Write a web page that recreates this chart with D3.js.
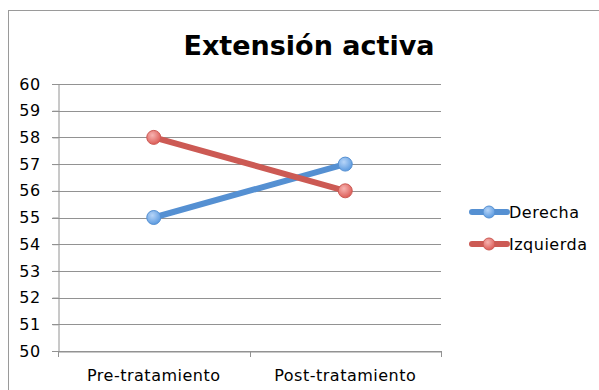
<!DOCTYPE html>
<html><head><meta charset="utf-8">
<script src="https://cdn.jsdelivr.net/npm/d3@7"></script>
<style>body{margin:0;background:#fff}svg{display:block}text{font-family:"DejaVu Sans",Verdana,sans-serif}</style>
</head><body><svg id="c" width="599" height="390"></svg>
<script>
const categories = ["Pre-tratamiento", "Post-tratamiento"];
const seriesNames = ["Derecha", "Izquierda"];
const derecha = [55, 57];
const izquierda = [58, 56];
const yTicks = [50, 51, 52, 53, 54, 55, 56, 57, 58, 59, 60];
const colors = ["#5590d2", "#cc5a54"];
const fills = [["#b7d5f8", "#5d9be0"], ["#f7b4b1", "#dc5d58"]];

const svg = d3.select("#c");
const L = 58, R = 441, T = 84, B = 351;
const x = d3.scaleBand().domain(categories).range([L, R]);
const y = d3.scaleLinear().domain([50, 60]).range([B, T]);
const FF = "'DejaVu Sans',Verdana,sans-serif";

// frame
svg.append("rect").attr("x", 8.5).attr("y", 10.5).attr("width", 620).attr("height", 420)
  .attr("fill", "none").attr("stroke", "#9a9a9a").attr("stroke-width", 1);

const defs = svg.append("defs");
fills.forEach((f, i) => {
  const g = defs.append("radialGradient").attr("id", "g" + i).attr("cx", "40%").attr("cy", "35%").attr("r", "65%");
  g.append("stop").attr("offset", "0%").attr("stop-color", f[0]);
  g.append("stop").attr("offset", "100%").attr("stop-color", f[1]);
});

// grid
svg.append("g").selectAll("line").data(yTicks).join("line")
  .attr("x1", L - 6).attr("x2", R).attr("y1", d => Math.round(y(d)) + 0.5).attr("y2", d => Math.round(y(d)) + 0.5)
  .attr("stroke", "#929292").attr("stroke-width", 1);

// y axis
const ya = svg.append("g").attr("transform", `translate(${L + 0.5},0)`)
  .call(d3.axisLeft(y).tickValues(yTicks).tickSize(6).tickPadding(12));
ya.select(".domain").attr("stroke", "#929292");
ya.selectAll(".tick line").attr("stroke", "#929292");
ya.selectAll(".tick text").attr("font-size", 16).attr("fill", "#000").style("font-family", FF).style("letter-spacing", "0.4px");

// x axis
const xa = svg.append("g").attr("transform", `translate(0,${Math.round(B) + 0.5})`)
  .call(d3.axisBottom(x).tickSize(0).tickPadding(18));
xa.select(".domain").attr("stroke", "#929292");
xa.selectAll(".tick text").attr("font-size", 16).attr("fill", "#000").style("font-family", FF).style("letter-spacing", "0.5px");
const edges = [L, L + x.bandwidth(), R];
svg.append("g").selectAll("line").data(edges).join("line")
  .attr("x1", d => Math.round(d) + 0.5).attr("x2", d => Math.round(d) + 0.5)
  .attr("y1", B).attr("y2", B + 6).attr("stroke", "#929292");

// series
const data = [derecha, izquierda];
const line = d3.line().x((d, i) => x(categories[i]) + x.bandwidth() / 2).y(d => y(d));
data.forEach((s, k) => {
  svg.append("path").datum(s).attr("d", line).attr("fill", "none")
    .attr("stroke", colors[k]).attr("stroke-width", 6).attr("stroke-linecap", "round");
});
data.forEach((s, k) => {
  svg.append("g").selectAll("circle").data(s).join("circle")
    .attr("cx", (d, i) => x(categories[i]) + x.bandwidth() / 2).attr("cy", d => y(d)).attr("r", 7)
    .attr("fill", `url(#g${k})`).attr("stroke", colors[k]).attr("stroke-width", 1);
});

// title
svg.append("text").attr("x", 309).attr("y", 55).attr("text-anchor", "middle")
  .attr("font-size", 27).attr("font-weight", "bold").attr("fill", "#000").text("Extensión activa");

// legend
const lg = svg.append("g");
seriesNames.forEach((n, k) => {
  const yy = 212 + k * 32;
  lg.append("line").attr("x1", 472).attr("x2", 507).attr("y1", yy).attr("y2", yy)
    .attr("stroke", colors[k]).attr("stroke-width", 6).attr("stroke-linecap", "round");
  lg.append("circle").attr("cx", 489).attr("cy", yy).attr("r", 6)
    .attr("fill", `url(#g${k})`).attr("stroke", colors[k]);
  lg.append("text").attr("x", 509).attr("y", yy + 6).attr("font-size", 16).attr("fill", "#000")
    .style("letter-spacing", "0.5px").text(n);
});
</script></body></html>
